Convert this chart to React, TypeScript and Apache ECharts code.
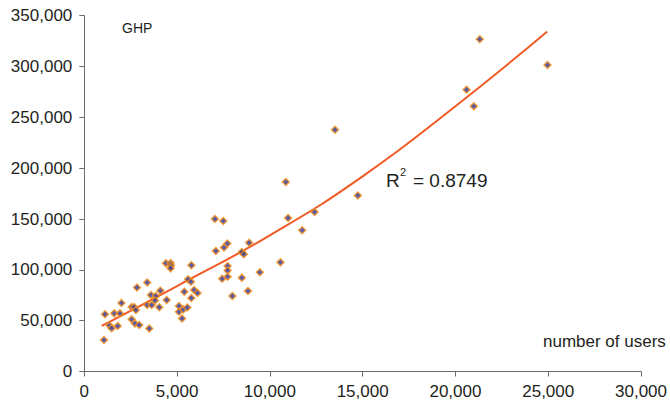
import React, { useEffect, useRef } from 'react';
import * as echarts from 'echarts';

const usersX = [
  1060, 1115, 1350, 1475, 1615, 1800, 1920, 2000, 2550, 2690,
  2780, 2550, 2730, 2960, 2840, 3390, 3390, 3630, 3590, 3850,
  3810, 4040, 4100, 4440, 3500, 4400, 4650, 4670, 4650, 5100,
  5100, 5270, 5330, 5550, 5390, 5590, 5750, 5770, 5770, 5920,
  6100, 7090, 7530, 7710, 8490, 8600, 8880, 7430, 7720, 7720,
  7720, 7980, 8490, 8820, 9460, 10570, 7040, 7490, 13510, 10860,
  14740, 10980, 12410, 11740, 21310, 20600, 20990, 24960,
];
const ghpY = [
  31000, 56300, 45400, 42500, 57200, 44800, 57200, 67400, 63400, 63400,
  60500, 51300, 47200, 45700, 82600, 87500, 65400, 65400, 75200, 74300,
  69800, 63200, 79500, 70300, 42300, 106400, 106700, 104300, 101500, 64400,
  58800, 52100, 61000, 63000, 78500, 90700, 88300, 104600, 72300, 80200,
  77200, 118500, 122000, 125900, 117500, 115300, 126700, 91300, 103800, 99400,
  93300, 74300, 92300, 79200, 97600, 107400, 150000, 148000, 237800, 186400,
  173100, 151000, 156900, 138900, 326800, 277200, 260900, 301500,
];
const trendX = [940, 5000, 10000, 15000, 20000, 24950];
const trendY = [44800, 84000, 134000, 192000, 261000, 334500];

const labelColor = '#231f20';
const axisColor = '#6d6d6d';
const font = 'Liberation Sans, Arial, sans-serif';

export default function App() {
  const ref = useRef<HTMLDivElement>(null);
  useEffect(() => {
    const chart = echarts.init(ref.current!, null, { renderer: 'svg' });
    const fmt = (v: number) => v.toLocaleString('en-US');
    chart.setOption({
      animation: false,
      grid: { left: 84.3, right: 29, top: 15.7, bottom: 36.5, containLabel: false },
      xAxis: {
        type: 'value', min: 0, max: 30000, interval: 5000,
        splitLine: { show: false },
        axisLine: { show: true, lineStyle: { color: axisColor, width: 1 } },
        axisTick: { show: true, length: 5, lineStyle: { color: axisColor } },
        axisLabel: { color: labelColor, fontSize: 17, fontFamily: font, margin: 11, formatter: fmt },
      },
      yAxis: {
        type: 'value', min: 0, max: 350000, interval: 50000,
        splitLine: { show: false },
        axisLine: { show: true, lineStyle: { color: axisColor, width: 1 } },
        axisTick: { show: true, length: 5, lineStyle: { color: axisColor } },
        axisLabel: { color: labelColor, fontSize: 17, fontFamily: font, margin: 12, formatter: fmt },
      },
      series: [
        {
          type: 'line',
          data: trendX.map((x, i) => [x, trendY[i]]),
          smooth: true,
          symbol: 'none',
          lineStyle: { color: '#f15a24', width: 2 },
          z: 1,
        },
        {
          type: 'scatter',
          data: usersX.map((x, i) => [x, ghpY[i]]),
          symbol: 'diamond',
          symbolSize: 7,
          itemStyle: { color: '#2e3192', borderColor: '#f7941d', borderWidth: 1.5 },
          z: 2,
        },
      ],
      graphic: [
        { type: 'text', left: 122, top: 21, style: { text: 'GHP', fontSize: 14, fontFamily: font, fill: labelColor } },
        { type: 'text', left: 543, top: 333, style: { text: 'number of users', fontSize: 17, fontFamily: font, fill: labelColor } },
        { type: 'text', x: 386, y: 180, style: { text: 'R', fontSize: 19, fontFamily: font, fill: labelColor, verticalAlign: 'middle' } },
        { type: 'text', x: 400, y: 172, style: { text: '2', fontSize: 11, fontFamily: font, fill: labelColor, verticalAlign: 'middle' } },
        { type: 'text', x: 413, y: 180, style: { text: '= 0.8749', fontSize: 19, fontFamily: font, fill: labelColor, verticalAlign: 'middle' } },
      ],
    });
    return () => chart.dispose();
  }, []);
  return <div ref={ref} style={{ position: 'absolute', left: 0, top: 0, width: 670, height: 408 }} />;
}
